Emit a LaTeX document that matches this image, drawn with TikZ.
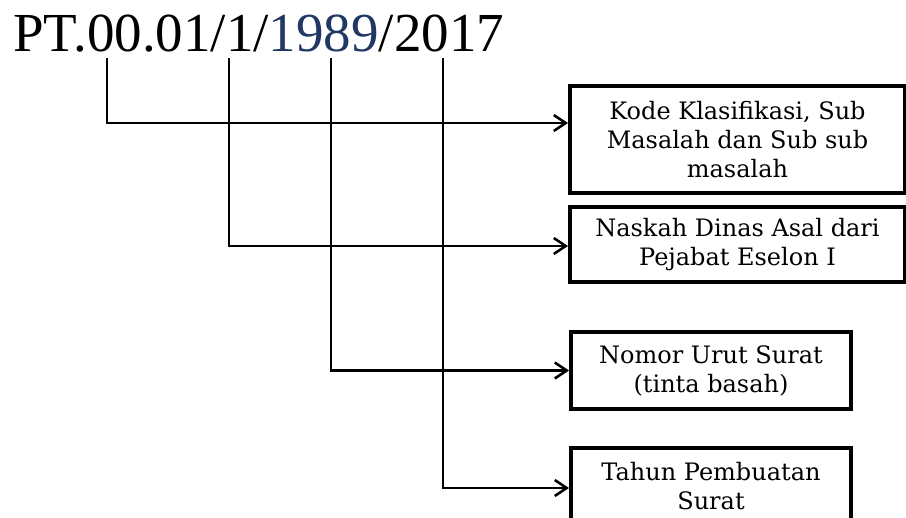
\documentclass[tikz,border=0pt]{standalone}
\usepackage{fontspec}
\setmainfont{Liberation Serif}
\newfontfamily\boxfont{DejaVu Serif}
\usetikzlibrary{arrows.meta}
\definecolor{numblue}{RGB}{31,56,100}
\tikzset{
  lbl/.style={draw=black, line width=3.8pt, inner sep=0pt, align=center,
    font=\boxfont\fontsize{24}{29}\selectfont, anchor=center},
  conn/.style={line width=2.6pt, -{Straight Barb[length=12pt,width=16pt,line width=2.6pt]}},
}
\begin{document}
\begin{tikzpicture}[x=1pt,y=-1pt]
\clip (0,0) rectangle (906,518);
\useasboundingbox (0,0) rectangle (906,518);
\node[anchor=base west, inner sep=0pt, font=\fontsize{55}{60}\selectfont] (title) at (13,52)
  {PT.00.01/1/\textcolor{numblue}{1989}/2017};
\node[lbl, minimum width=335pt, minimum height=107pt] (b1) at (737.5,139.5)
  {Kode Klasifikasi, Sub\\Masalah dan Sub sub\\masalah};
\node[lbl, minimum width=335pt, minimum height=75pt] (b2) at (737.5,244.5)
  {Naskah Dinas Asal dari\\Pejabat Eselon I};
\node[lbl, minimum width=280pt, minimum height=77pt] (b3) at (711,370.5)
  {Nomor Urut Surat\\(tinta basah)};
\node[lbl, minimum width=280pt, minimum height=77pt] (b4) at (711,486.5)
  {Tahun Pembuatan\\Surat};
\coordinate (s1) at (107,58);
\coordinate (s2) at (229,58);
\coordinate (s3) at (331,58);
\coordinate (s4) at (443,58);
\draw[conn] (s1) |- ([yshift=16.5pt]b1.west);
\draw[conn] (s2) |- ([yshift=-1.5pt]b2.west);
\draw[conn] (s3) |- (b3.west);
\draw[conn] (s4) |- ([yshift=-1.5pt]b4.west);
\end{tikzpicture}
\end{document}
